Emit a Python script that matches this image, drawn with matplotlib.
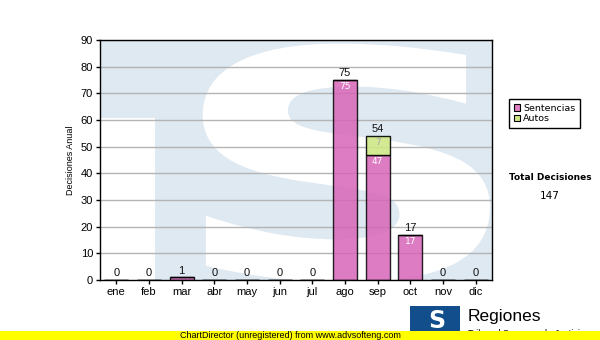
"""Decisiones anuales por mes (Sentencias + Autos), estilo ChartDirector."""

import matplotlib
matplotlib.use("Agg")
import matplotlib.pyplot as plt
from matplotlib.patches import PathPatch, Patch, Rectangle
from matplotlib.textpath import TextPath
from matplotlib.font_manager import FontProperties
from matplotlib.transforms import Affine2D

MONTHS = ["ene", "feb", "mar", "abr", "may", "jun", "jul", "ago", "sep", "oct", "nov", "dic"]
SENTENCIAS = [0, 0, 1, 0, 0, 0, 0, 75, 47, 17, 0, 0]
AUTOS = [0, 0, 0, 0, 0, 0, 0, 0, 7, 0, 0, 0]
Y_TICKS = list(range(0, 91, 10))
TOTAL = sum(SENTENCIAS) + sum(AUTOS)

PINK = "#d865b8"
GREEN = "#cfe886"
WM_BLUE = "#dfe9f2"

W, H = 600, 340
fig = plt.figure(figsize=(W / 100, H / 100), dpi=100)
fig.patch.set_facecolor("white")
ax = fig.add_axes([100 / W, (H - 280) / H, 392 / W, 240 / H])

# --- watermark: big "TS" logo behind the bars
ax.set_facecolor(WM_BLUE)
ax.add_patch(Rectangle((0, 0), 0.14, 0.675, transform=ax.transAxes,
                       facecolor="white", edgecolor="none", zorder=0.2))
tp = TextPath((0, 0), "S", size=1, prop=FontProperties(family="DejaVu Sans", weight="bold"))
ext = tp.get_extents()
bx0, bx1, by0, by1 = 0.262, 0.995, -0.01, 0.985
tr = (Affine2D().translate(-ext.x0, -ext.y0)
      .scale((bx1 - bx0) / ext.width, (by1 - by0) / ext.height)
      .translate(bx0, by0) + ax.transAxes)
s_patch = PathPatch(tp, transform=tr, facecolor="white", edgecolor="none", zorder=0.3)
ax.add_patch(s_patch)
s_patch.set_clip_path(ax.patch)

# --- grid
for t in Y_TICKS[1:]:
    ax.axhline(t, color="#b4b4b4", lw=1, zorder=1)

x = list(range(len(MONTHS)))
totals = [s + a for s, a in zip(SENTENCIAS, AUTOS)]
bw = 0.73
ax.bar(x, SENTENCIAS, width=bw, color=PINK, alpha=0.85, edgecolor="black", lw=1, zorder=2)
ax.bar(x, AUTOS, width=bw, bottom=SENTENCIAS, color=GREEN, alpha=0.9,
       edgecolor="black", lw=1, zorder=2)

for i in x:
    ax.text(i, totals[i] + 0.6, f"{totals[i]}", ha="center", va="bottom",
            fontsize=8, family="Liberation Sans", color="#111", zorder=4)
    if SENTENCIAS[i] >= 5:
        ax.text(i, SENTENCIAS[i] - 0.8, f"{SENTENCIAS[i]}", ha="center", va="top",
                fontsize=6.5, family="DejaVu Sans", color="white", zorder=4)
    if AUTOS[i] >= 5:
        ax.text(i, totals[i] - 0.8, f"{AUTOS[i]}", ha="center", va="top",
                fontsize=6.5, family="DejaVu Sans", color="#a8a8a8", zorder=4)

ax.set_xlim(-0.5, len(MONTHS) - 0.5)
ax.set_ylim(0, 90)
ax.set_yticks(Y_TICKS)
ax.set_xticks(x)
ax.set_xticklabels(MONTHS)
for lab in ax.get_xticklabels() + ax.get_yticklabels():
    lab.set_family("Liberation Sans")
    lab.set_fontsize(8)
ax.tick_params(axis="both", direction="out", length=3, width=1, color="black", pad=2)
for sp in ax.spines.values():
    sp.set_linewidth(1)
    sp.set_zorder(5)
ax.set_ylabel("Decisiones Anual", fontsize=6.5, family="Liberation Sans", labelpad=4)

# --- legend and total
fig.legend(handles=[Patch(facecolor="#e07fc2", edgecolor="black", lw=0.8, label="Sentencias"),
                    Patch(facecolor=GREEN, edgecolor="black", lw=0.8, label="Autos")],
           loc="upper left", bbox_to_anchor=(509 / W, 1 - 99 / H), fontsize=6.8,
           frameon=True, fancybox=False, edgecolor="black", framealpha=1,
           handlelength=0.7, handleheight=0.7, handletextpad=0.3, borderpad=0.5,
           labelspacing=0.15, borderaxespad=0)
fig.text(550 / W, 1 - 177 / H, "Total Decisiones", ha="center", va="center",
         fontsize=6.5, fontweight="bold", family="DejaVu Sans")
fig.text(550 / W, 1 - 196 / H, f"{TOTAL}", ha="center", va="center",
         fontsize=7.5, family="DejaVu Sans")

# --- footer: logo and ChartDirector banner
fig.patches.append(Rectangle((410 / W, 1 - 331 / H), 50 / W, 25 / H, transform=fig.transFigure,
                             facecolor="#124d8c", edgecolor="none", zorder=1))
fig.text(437 / W, 1 - 321 / H, "S", ha="center", va="center", fontsize=17, fontweight="bold",
         family="DejaVu Sans", color="white", zorder=2)
fig.text(468 / W, 1 - 316 / H, "Regiones", ha="left", va="center", fontsize=12.5,
         family="Liberation Sans", color="black")
fig.text(468 / W, 1 - 334 / H, "Tribunal Supremo de Justicia", ha="left", va="center",
         fontsize=6.5, family="Liberation Sans", color="black", zorder=1)
fig.patches.append(Rectangle((0, 0), 1, 9 / H, transform=fig.transFigure,
                             facecolor="#ffff00", edgecolor="none", zorder=3))
fig.text(290 / W, 4.5 / H, "ChartDirector (unregistered) from www.advsofteng.com",
         ha="center", va="center", fontsize=6.5, family="Liberation Sans", color="black", zorder=4)

fig.savefig("out.png", dpi=100)
